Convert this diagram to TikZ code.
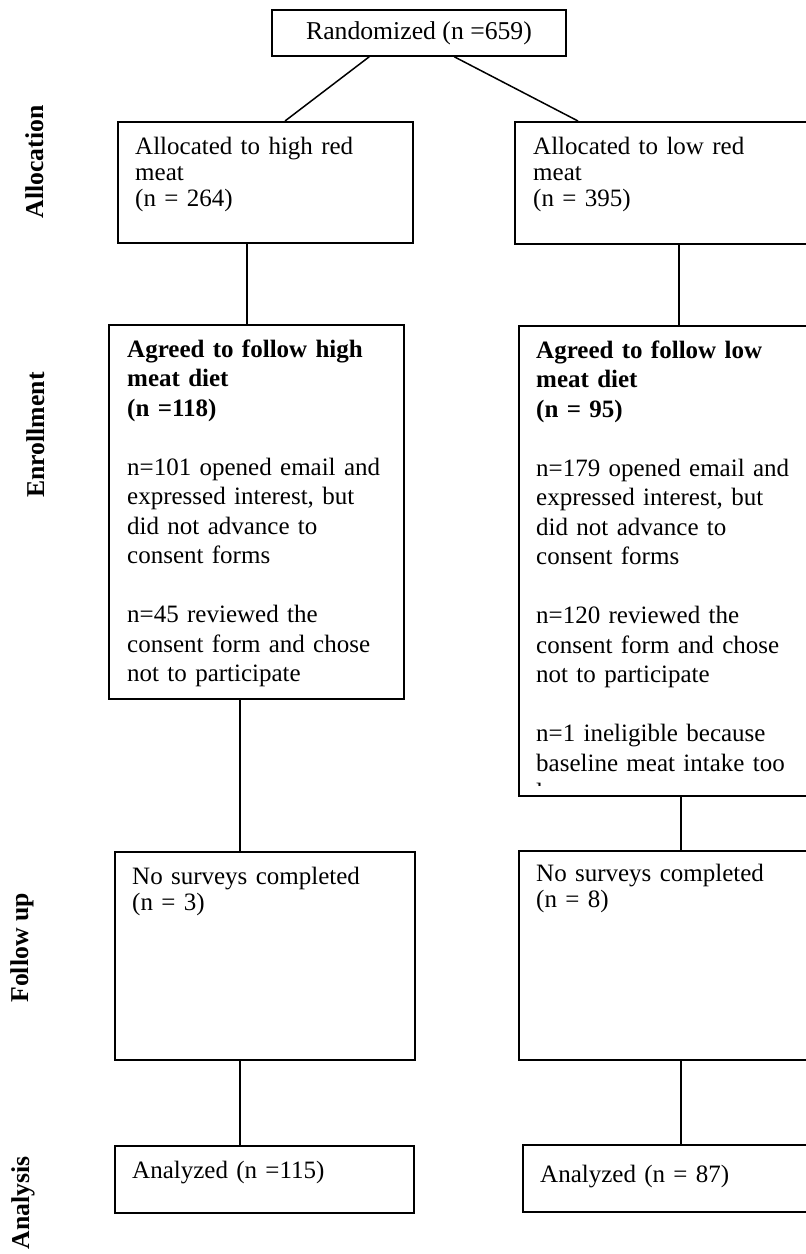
\documentclass[tikz,border=0pt]{standalone}
\usepackage{fontspec}
\setmainfont{Liberation Serif}
\usetikzlibrary{calc}
\begin{document}
\begin{tikzpicture}[x=1pt,y=-1pt,
  font=\fontsize{25}{25.5}\selectfont,
  box/.style={draw, line width=1.5pt, inner sep=0pt, anchor=north west},
  txt/.style={anchor=north west, inner sep=0pt, align=left, text width=300pt},
  single/.style={font=\fontsize{25}{26}\selectfont},
  multi/.style={font=\fontsize{25}{29.5}\selectfont},
  lab/.style={font=\fontsize{25.7}{30}\selectfont\bfseries, rotate=90, anchor=base, inner sep=0pt},
  conn/.style={line width=1.5pt}]
\clip (0,0) rectangle (806,1254);
\fill[white] (0,0) rectangle (806,1254);

% boxes
\node[box, anchor=center, minimum width=294pt, minimum height=46pt, font=\fontsize{25.7}{25.5}\selectfont] (rand) at (419,33) {Randomized (n =659)};
\node[box, minimum width=295pt, minimum height=121pt] (lalloc) at (117,121) {};
\node[box, minimum width=300pt, minimum height=122pt] (ralloc) at (514,121) {};
\node[box, minimum width=295pt, minimum height=374pt] (lenr) at (108,324) {};
\node[box, minimum width=300pt, minimum height=470pt] (renr) at (518,325) {};
\node[box, minimum width=300pt, minimum height=208pt] (lfu) at (114,851) {};
\node[box, minimum width=300pt, minimum height=209pt] (rfu) at (518,850) {};
\node[box, minimum width=299pt, minimum height=67pt] (lan) at (114,1145) {};
\node[box, minimum width=300pt, minimum height=67pt] (ran) at (522,1144) {};

% texts
\node[txt, single] (lalloct) at (135,134) {\rule{0pt}{20pt}Allocated to high red\\meat\\(n = 264)};
\node[txt, single] (ralloct) at (533,134) {\rule{0pt}{20pt}Allocated to low red\\meat\\(n = 395)};
\node[txt, multi] (lenrt) at (127,337) {\rule{0pt}{20pt}\textbf{Agreed to follow high}\\\textbf{meat diet}\\\textbf{(n =118)}\\[29.5pt]n=101 opened email and\\expressed interest, but\\did not advance to\\consent forms\\[29.5pt]n=45 reviewed the\\consent form and chose\\not to participate};
\begin{scope}
\clip (518,325) rectangle (806,785);
\node[txt, multi] (renrt) at (536,338) {\rule{0pt}{20pt}\textbf{Agreed to follow low}\\\textbf{meat diet}\\\textbf{(n = 95)}\\[29.5pt]n=179 opened email and\\expressed interest, but\\did not advance to\\consent forms\\[29.5pt]n=120 reviewed the\\consent form and chose\\not to participate\\[29.5pt]n=1 ineligible because\\baseline meat intake too\\low};
\end{scope}
\node[txt, single] (lfut) at (132,864) {\rule{0pt}{20pt}No surveys completed\\(n = 3)};
\node[txt, single] (rfut) at (536,861) {\rule{0pt}{20pt}No surveys completed\\(n = 8)};
\node[txt, single] (lant) at (132,1158) {\rule{0pt}{20pt}Analyzed (n =115)};
\node[txt, single] (rant) at (540,1162) {\rule{0pt}{20pt}Analyzed (n = 87)};

% side labels
\node[lab] (lblalloc) at (43,162) {Allocation};
\node[lab] (lblenr) at (44,435) {Enrollment};
\node[lab] (lblfu) at (28,948) {Follow up};
\node[lab] (lblan) at (29,1203) {Analysis};

% connectors
\draw[conn] ([xshift=98pt]rand.south west) -- ([xshift=168pt]lalloc.north west);
\draw[conn] ([xshift=183pt]rand.south west) -- ([xshift=64pt]ralloc.north west);
\draw[conn] ([xshift=130pt]lalloc.south west) coordinate (c1) -- (c1 |- lenr.north);
\draw[conn] ([xshift=165pt]ralloc.south west) coordinate (c2) -- (c2 |- renr.north);
\draw[conn] ([xshift=132pt]lenr.south west) coordinate (c3) -- (c3 |- lfu.north);
\draw[conn] ([xshift=163pt]renr.south west) coordinate (c4) -- (c4 |- rfu.north);
\draw[conn] ([xshift=126pt]lfu.south west) coordinate (c5) -- (c5 |- lan.north);
\draw[conn] ([xshift=163pt]rfu.south west) coordinate (c6) -- (c6 |- ran.north);
\end{tikzpicture}
\end{document}
